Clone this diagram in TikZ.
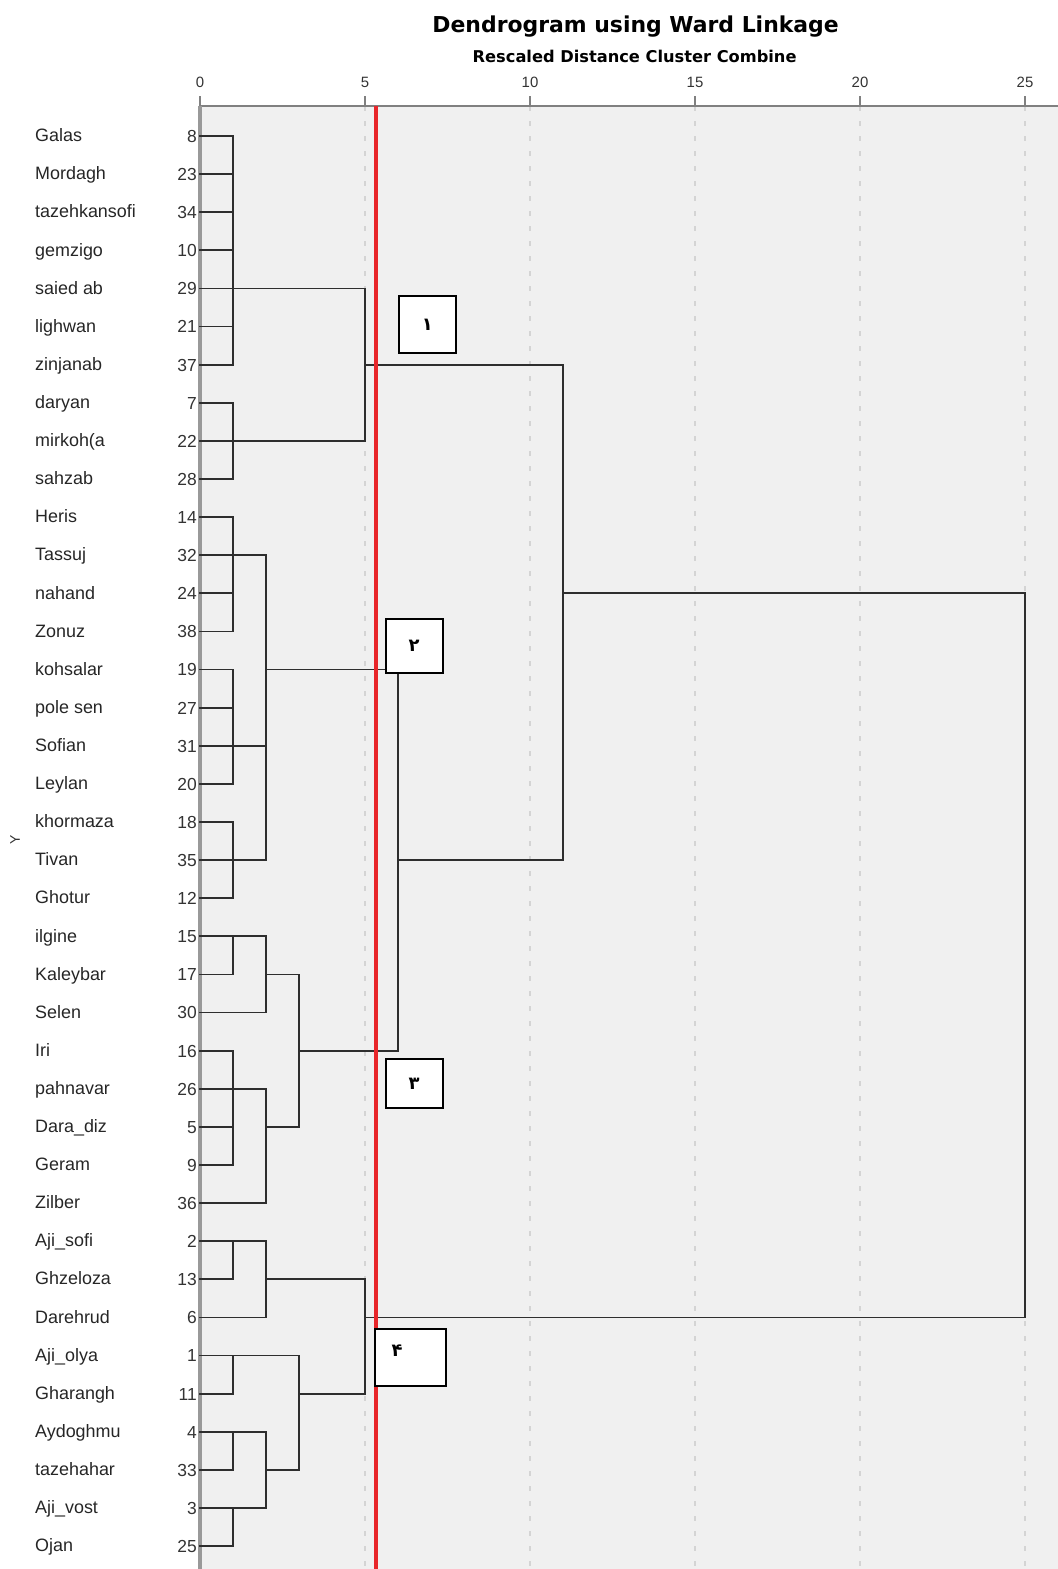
\documentclass[tikz,border=0pt]{standalone}
\usepackage{fontspec}
\setmainfont{Liberation Sans}
\newfontfamily\titlefont{DejaVu Sans}
\newfontfamily\persianfont[Script=Arabic]{DejaVu Sans}
\definecolor{cutred}{HTML}{E8262A}
\definecolor{plotbg}{HTML}{F0F0F0}
\begin{document}
\begin{tikzpicture}[
		x=33bp, y=-38.11bp,
		every node/.style={inner sep=0pt},
		rowname/.style={anchor=mid west, font=\fontsize{18}{19}\selectfont, text=black!85},
		rownum/.style={anchor=mid east, font=\fontsize{17.5}{18}\selectfont, text=black!80},
		ticklabel/.style={font=\fontsize{15}{16}\selectfont, text=black!80},
		link/.style={draw=black!82, line width=1.8bp, line cap=rect},
		gridline/.style={draw=black!17, line width=1.5bp, dash pattern=on 5bp off 10bp},
		axisline/.style={draw=black!50, line width=2bp},
		cutline/.style={draw=cutred, line width=4bp},
		clusterbox/.style={draw, line width=2bp, fill=white, minimum width=57bp, font=\persianfont\bfseries\fontsize{18}{20}\selectfont},
		]
		\useasboundingbox (-200bp,136bp) rectangle (858bp,-1433bp);
		\fill[plotbg] (0bp,30bp) rectangle (858bp,-1433bp);
		\foreach \t in {5,10,...,25}
			\draw[gridline] (\t,-0.787) -- (\t,37.61);
		\draw[axisline] (0,-0.787) -- (26.1,-0.787);
		\draw[draw=black!40, line width=3bp] (0,-0.787) -- (0,37.61);
		\foreach \t in {0,5,...,25} {
			\draw[axisline] (\t,-0.787) -- (\t,-1.05);
			\node[ticklabel] (tick\t) at (\t,-1.417) {\t};
		}
		\node[font=\titlefont\bfseries\fontsize{22}{24}\selectfont] (title) at (13.2,-2.87) {Dendrogram using Ward Linkage};
		\node[font=\titlefont\bfseries\fontsize{16.3}{17}\selectfont] (subtitle) at (13.17,-2.08) {Rescaled Distance Cluster Combine};
		\node[rotate=90, font=\fontsize{14}{15}\selectfont, text=black!80] (yname) at (-5.6,18.47) {Y};
		\foreach \name/\num [count=\i from 0] in {Galas/8, Mordagh/23, tazehkansofi/34, gemzigo/10, saied ab/29, lighwan/21, zinjanab/37, daryan/7, mirkoh(a/22, sahzab/28, Heris/14, Tassuj/32, nahand/24, Zonuz/38, kohsalar/19, pole sen/27, Sofian/31, Leylan/20, khormaza/18, Tivan/35, Ghotur/12, ilgine/15, Kaleybar/17, Selen/30, Iri/16, pahnavar/26, Dara\_diz/5, Geram/9, Zilber/36, Aji\_sofi/2, Ghzeloza/13, Darehrud/6, Aji\_olya/1, Gharangh/11, Aydoghmu/4, tazehahar/33, Aji\_vost/3, Ojan/25} {
			\node[rowname] (name\i) at (-5.0,\i+0.08) {\name};
			\node[rownum] (num\i) at (-0.09,\i+0.1) {\num};
			\coordinate (r\i) at (0,\i);
		}
		\foreach \lvl in {0,1,2,3,5,6,11,25}
			\coordinate (d\lvl) at (\lvl,0);
		\foreach \r/\a/\b in {0/0/1, 1/0/1, 2/0/1, 3/0/1, 4/0/5, 5/0/1, 6/0/1, 6/5/11, 7/0/1, 8/0/5, 9/0/1,
				10/0/1, 11/0/2, 12/0/1, 12/11/25, 13/0/1, 14/0/1, 14/2/6, 15/0/1, 16/0/2, 17/0/1,
				18/0/1, 19/0/2, 19/6/11, 20/0/1, 21/0/2, 22/0/1, 22/2/3, 23/0/2, 24/0/1, 24/3/6,
				25/0/2, 26/0/1, 26/2/3, 27/0/1, 28/0/2, 29/0/2, 30/0/1, 30/2/5, 31/0/2, 31/5/25,
				32/0/3, 33/0/1, 33/3/5, 34/0/2, 35/0/1, 35/2/3, 36/0/2, 37/0/1}
			\draw[link] (r\r -| d\a) -- (r\r -| d\b);
		\foreach \l/\a/\b in {1/0/6, 1/7/9, 5/4/8, 1/10/13, 1/14/17, 1/18/20, 2/11/19, 1/21/22,
				2/21/23, 1/24/27, 2/25/28, 3/22/26, 6/14/24, 11/6/19, 1/29/30, 2/29/31, 1/32/33,
				1/34/35, 1/36/37, 2/34/36, 3/32/35, 5/30/33, 25/12/31}
			\draw[link] (d\l |- r\a) -- (d\l |- r\b);
		\draw[cutline] (5.33,-0.787) -- (5.33,37.61);
		\node[clusterbox, minimum height=57bp] (box1) at (6.89,4.95) {۱};
		\node[clusterbox, minimum height=54bp] (box2) at (6.49,13.38) {۲};
		\node[clusterbox, minimum height=49bp] (box3) at (6.49,24.87) {۳};
		\node[clusterbox, minimum width=71bp, minimum height=57bp] (box4) at (6.37,32.06) {};
		\node[font=\persianfont\bfseries\fontsize{18}{20}\selectfont] (digit4) at ([xshift=-13bp, yshift=7bp]box4.center) {۴};
	\end{tikzpicture}
\end{document}
